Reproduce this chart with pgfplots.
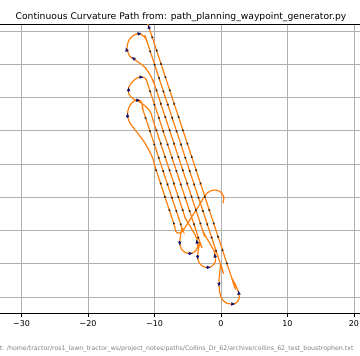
\documentclass[border=0pt]{standalone}
\usepackage{fontspec}
\setmainfont{DejaVu Sans}
\usepackage{pgfplots}
\pgfplotsset{compat=1.18}
\usetikzlibrary{arrows.meta}
\definecolor{pathorange}{HTML}{FF7F0E}
\definecolor{gridgray}{HTML}{B0B0B0}
\definecolor{navyarrow}{HTML}{14146E}
\begin{document}
\begin{tikzpicture}
\useasboundingbox (0pt,0pt) rectangle (360pt,356pt);
\begin{scope}
\clip (0pt,0pt) rectangle (360pt,356pt);
\begin{axis}[
  at={(-18.4pt,42.7pt)}, anchor=south west,
  scale only axis, width=385.7pt, height=288.9pt,
  xmin=-36, xmax=22, ymin=-2.45, ymax=41,
  xtick={-30,-20,-10,0,10,20}, xticklabels={−30,−20,−10,0,10,20},
  ytick={0,5,10,15,20,25,30,35,40}, yticklabels={},
  grid=major, major grid style={gridgray, line width=0.8pt},
  tick align=outside, tick pos=left, major tick length=3.5pt,
  tick style={black, line width=0.8pt},
  axis line style={black, line width=0.8pt},
  ticklabel style={font=\fontsize{8}{9.6}\selectfont},
]
\addplot[pathorange, line width=1.2pt, smooth, tension=0.5, no markers] coordinates {
(0.3,14.1) (0.42,15.0) (0.05,15.7) (-0.6,16.05) (-1.3,16.05) (-2.0,15.7) (-2.6,14.95) (-3.1,14.1)
(-4.3,12.2) (-5.35,10.55) (-5.85,9.85) (-6.45,9.6) (-6.85,9.95) (-6.95,10.6) (-7.15,11.2)
(-9.79,19.2) (-9.98,19.8) (-10.4,21.2) (-11.6,23.4) (-12.9,25.1) (-13.7,26.2) (-14.05,27.3)
(-13.9,28.4) (-13.3,29.3) (-12.5,29.65) (-11.95,29.3) (-11.72,28.1) (-11.52,27.5)
(-6.08,11.0) (-5.88,10.4) (-6.05,9.4) (-6.2,8.3) (-6.0,7.3) (-5.4,6.7) (-4.6,6.55) (-3.9,6.85)
(-3.5,7.6) (-3.6,8.7) (-4.15,9.8) (-4.8,10.9) (-5.41,12.0) (-5.61,12.6)
(-10.03,26.0) (-10.23,26.6) (-10.7,28.0) (-12.0,29.2) (-13.2,29.8) (-13.9,30.6) (-13.8,31.7)
(-13.1,32.6) (-12.2,33.1) (-11.4,32.9) (-10.98,31.9) (-10.78,31.3)
(-3.39,8.9) (-3.19,8.3) (-3.36,7.3) (-3.51,6.2) (-3.31,5.2) (-2.71,4.6) (-1.91,4.45) (-1.21,4.75)
(-0.81,5.5) (-0.91,6.6) (-1.46,7.7) (-2.11,8.8) (-2.72,9.9) (-2.92,10.5)
(-9.78,31.3) (-9.98,31.9) (-10.6,33.3) (-11.5,34.6) (-12.7,35.5) (-13.7,36.2) (-14.12,37.4)
(-13.85,38.6) (-13.1,39.4) (-12.2,39.55) (-11.45,39.05) (-10.96,37.9) (-10.76,37.3)
(-0.30,5.6) (-0.10,5.0) (-0.15,4.0) (-0.28,2.8) (-0.3,1.7) (-0.15,0.5) (0.25,-0.45) (0.9,-0.95)
(1.8,-1.05) (2.45,-0.75) (2.75,-0.1) (2.6,0.8) (2.15,1.9) (1.6,2.9) (1.4,3.5)
(-10.55,39.7) (-10.75,40.3)
};
\addplot[quiver={u=\thisrow{u},v=\thisrow{v},
  every arrow/.append style={-{Latex[length=2.6pt,width=2.4pt]}}},
  black!85, line width=0.5pt, no markers] table {
x y u v
-7.08 11 -0.11 0.333
-7.74 13 -0.11 0.333
-8.40 15 -0.11 0.333
-9.06 17 -0.11 0.333
-9.72 19 -0.11 0.333
-11.36 27 0.11 -0.333
-10.70 25 0.11 -0.333
-10.04 23 0.11 -0.333
-9.38 21 0.11 -0.333
-8.72 19 0.11 -0.333
-8.06 17 0.11 -0.333
-7.40 15 0.11 -0.333
-6.74 13 0.11 -0.333
-6.08 11 0.11 -0.333
-5.74 13 -0.11 0.333
-6.40 15 -0.11 0.333
-7.06 17 -0.11 0.333
-7.72 19 -0.11 0.333
-8.38 21 -0.11 0.333
-9.04 23 -0.11 0.333
-9.70 25 -0.11 0.333
-10.68 31 0.11 -0.333
-10.02 29 0.11 -0.333
-9.36 27 0.11 -0.333
-8.70 25 0.11 -0.333
-8.04 23 0.11 -0.333
-7.38 21 0.11 -0.333
-6.72 19 0.11 -0.333
-6.06 17 0.11 -0.333
-5.40 15 0.11 -0.333
-4.74 13 0.11 -0.333
-4.08 11 0.11 -0.333
-3.42 9 0.11 -0.333
-3.08 11 -0.11 0.333
-3.74 13 -0.11 0.333
-4.40 15 -0.11 0.333
-5.06 17 -0.11 0.333
-5.72 19 -0.11 0.333
-6.38 21 -0.11 0.333
-7.04 23 -0.11 0.333
-7.70 25 -0.11 0.333
-8.36 27 -0.11 0.333
-9.02 29 -0.11 0.333
-9.68 31 -0.11 0.333
-10.66 37 0.11 -0.333
-10.00 35 0.11 -0.333
-9.34 33 0.11 -0.333
-8.68 31 0.11 -0.333
-8.02 29 0.11 -0.333
-7.36 27 0.11 -0.333
-6.70 25 0.11 -0.333
-6.04 23 0.11 -0.333
-5.38 21 0.11 -0.333
-4.72 19 0.11 -0.333
-4.06 17 0.11 -0.333
-3.40 15 0.11 -0.333
-2.74 13 0.11 -0.333
-2.08 11 0.11 -0.333
-1.42 9 0.11 -0.333
-0.76 7 0.11 -0.333
0.90 5 -0.11 0.333
0.24 7 -0.11 0.333
-0.42 9 -0.11 0.333
-1.08 11 -0.11 0.333
-1.74 13 -0.11 0.333
-2.40 15 -0.11 0.333
-3.06 17 -0.11 0.333
-3.72 19 -0.11 0.333
-4.38 21 -0.11 0.333
-5.04 23 -0.11 0.333
-5.70 25 -0.11 0.333
-6.36 27 -0.11 0.333
-7.02 29 -0.11 0.333
-7.68 31 -0.11 0.333
-8.34 33 -0.11 0.333
-9.00 35 -0.11 0.333
-9.66 37 -0.11 0.333
-10.32 39 -0.11 0.333
};
\addplot[quiver={u=\thisrow{u},v=\thisrow{v},
  every arrow/.append style={-{Latex[length=4.2pt,width=3.8pt]}}},
  navyarrow, line width=0.8pt, no markers] table {
x y u v
-14.1 36.9 -0.25 0.65
-12.6 39.55 0.7 0.15
-12.9 35.7 -0.57 0.41
-12.3 33.1 0.68 -0.1
-13.9 30.9 0.0 0.7
-12.8 29.6 0.7 0.0
-14.05 27.0 0.0 0.7
-6.2 8.4 0.0 -0.7
-4.9 6.55 0.7 0.0
-3.55 8.0 -0.15 0.68
-3.51 6.3 0.0 -0.7
-2.2 4.45 0.7 0.0
-0.86 5.9 -0.15 0.68
-0.3 2.2 0.0 -0.7
1.5 -1.05 0.7 0.0
2.72 0.3 -0.1 0.7
-10.75 40.3 -0.23 0.66
};
\end{axis}
\node[anchor=base, font=\fontsize{9.2}{11}\selectfont] at (181pt,336.5pt)
  {Continuous Curvature Path from: path\_planning\_waypoint\_generator.py};
\node[anchor=base east, text=gray, font=\fontsize{6.25}{7.5}\selectfont] at (357pt,5pt)
  {Input: /home/tractor/ros1\_lawn\_tractor\_ws/project\_notes/paths/Collins\_Dr\_62/archive/collins\_62\_test\_boustrophen.txt};
\end{scope}
\end{tikzpicture}
\end{document}
